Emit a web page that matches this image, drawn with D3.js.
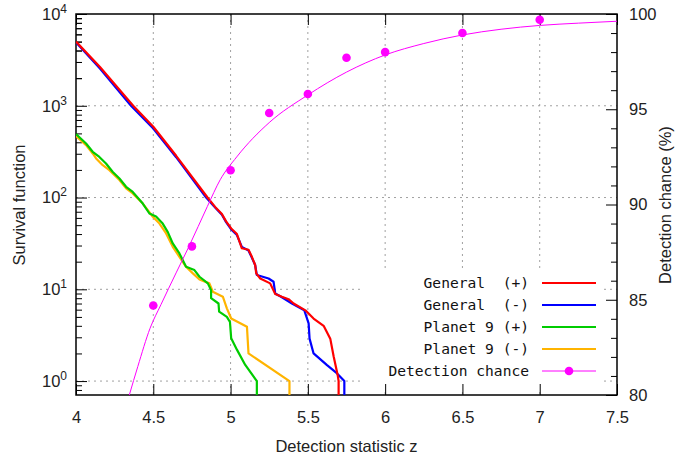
<!DOCTYPE html>
<html>
<head>
<meta charset="utf-8">
<script src="https://cdn.jsdelivr.net/npm/d3@7"></script>
<style>
  body { margin: 0; background: #fff; }
  svg { display: block; }
</style>
</head>
<body>
<svg id="chart" width="699" height="457"></svg>
<script>
// survival functions, [z, S(z)]
var generalPos = [
    [4.0, 5000], [4.155, 2650], [4.37, 1000], [4.5, 590], [4.648, 285], [4.851, 100],
    [4.9, 79], [4.944, 66], [4.971, 55], [5.004, 46], [5.041, 40], [5.073, 28],
    [5.116, 27], [5.138, 22.6], [5.159, 18.4], [5.166, 14.9], [5.192, 13.1], [5.256, 11.6],
    [5.289, 8.9], [5.332, 8.3], [5.375, 7.8], [5.408, 7.0], [5.484, 5.9], [5.537, 4.8],
    [5.602, 4.0], [5.645, 2.9], [5.667, 1.85], [5.693, 1.16], [5.699, 1.0], [5.699, 0.3]
]
var generalNeg = [
    [4.0, 4900], [4.155, 2550], [4.356, 1000], [4.5, 565], [4.648, 275], [4.842, 100],
    [4.9, 78], [4.944, 65], [4.971, 54], [5.004, 45], [5.041, 39], [5.073, 29],
    [5.116, 26.5], [5.138, 22], [5.159, 18.4], [5.170, 14.3], [5.246, 13.1], [5.278, 12.1],
    [5.289, 9.0], [5.332, 8.2], [5.397, 7.0], [5.477, 5.9], [5.505, 4.25], [5.511, 2.9],
    [5.537, 2.0], [5.624, 1.49], [5.689, 1.21], [5.736, 1.0], [5.736, 0.3]
]
var planet9Pos = [
    [4.0, 491], [4.065, 388], [4.108, 315], [4.151, 277], [4.194, 235], [4.238, 190],
    [4.281, 161], [4.324, 131], [4.367, 115], [4.432, 86], [4.475, 67], [4.518, 62],
    [4.561, 52], [4.594, 42], [4.626, 31.6], [4.669, 24.6], [4.712, 17.6], [4.766, 16.2],
    [4.799, 13.7], [4.853, 11.6], [4.874, 9.8], [4.874, 8.0], [4.922, 7.0], [4.926, 5.7],
    [4.976, 5.0], [4.996, 4.4], [5.004, 2.92], [5.041, 2.2], [5.095, 1.5], [5.17, 1.0], [5.17, 0.3]
]
var planet9Neg = [
    [4.0, 467], [4.065, 372], [4.108, 302], [4.130, 267], [4.173, 225], [4.216, 199],
    [4.281, 155], [4.324, 126], [4.367, 111], [4.432, 86], [4.497, 61.7], [4.540, 52],
    [4.583, 40.6], [4.626, 29.0], [4.669, 22.6], [4.712, 17.6], [4.756, 14.9], [4.799, 12.8],
    [4.863, 11.6], [4.885, 9.4], [4.950, 8.3], [4.976, 6.2], [5.004, 4.8], [5.106, 3.9],
    [5.116, 2.0], [5.381, 1.0], [5.381, 0.3]
]

// detection chance (%), measured points and the fitted curve
var detZ = [4.5, 4.75, 5.0, 5.25, 5.5, 5.75, 6.0, 6.5, 7.0]
var detChance = [84.7, 87.8, 91.8, 94.8, 95.8, 97.7, 98.0, 99.0, 99.7]
var fitZ = [4.345, 4.4, 4.479, 4.55, 4.65, 4.731, 4.85, 4.933, 5.04, 5.25, 5.5, 5.75, 6.0, 6.25, 6.5, 6.75, 7.0, 7.25, 7.5]
var fitChance = [80, 81.5, 83.5, 84.75, 86.45, 87.8, 89.9, 91.3, 92.5, 94.3, 95.75, 96.95, 97.85, 98.45, 98.9, 99.2, 99.4, 99.52, 99.62]

var xTicks = [4, 4.5, 5, 5.5, 6, 6.5, 7, 7.5]
var yExponents = [0, 1, 2, 3, 4]
var y2Ticks = [80, 85, 90, 95, 100]

var legendNames = ["General  (+)", "General  (-)", "Planet 9 (+)", "Planet 9 (-)", "Detection chance"]
var colors = ["#ff0000", "#0000ff", "#00cc00", "#ffb400", "#ff00ff"]

var svg = d3.select("svg#chart")
var pLeft = 76, pRight = 617, pTop = 14, pBottom = 395
var sansFont = "'Liberation Sans', Arial, sans-serif"
var grid_color = '#a0a0a0'

var x = d3.scaleLinear().domain([4, 7.5]).range([pLeft, pRight])
var y = d3.scaleLog().domain([0.705, 1e4]).range([pBottom, pTop])
var y2 = d3.scaleLinear().domain([80, 100]).range([pBottom, pTop])

svg.append("clipPath").attr("id", "plotclip")
    .append("rect").attr("x", pLeft).attr("y", pTop).attr("width", pRight - pLeft).attr("height", pBottom - pTop)

// grid
var grid = svg.append("g").attr("stroke", grid_color).attr("stroke-width", 1).attr("stroke-dasharray", "2,4")
xTicks.slice(1, -1).forEach(function (t) {
    grid.append("line").attr("x1", x(t)).attr("x2", x(t)).attr("y1", pTop).attr("y2", pBottom)
})
yExponents.slice(0, -1).forEach(function (e) {
    grid.append("line").attr("x1", pLeft).attr("x2", pRight).attr("y1", y(Math.pow(10, e))).attr("y2", y(Math.pow(10, e)))
})

// opaque key box hides the grid behind it
svg.append("rect").attr("x", 363).attr("y", 270).attr("width", 240).attr("height", 118).attr("fill", "#fff")

// axes (ticks inside, gnuplot style)
function styleAxis(g) {
    g.select(".domain").remove()
    g.selectAll("line").attr("stroke", "#000").attr("stroke-width", 1)
    g.attr("font-family", sansFont).attr("font-size", "16.5px")
    g.selectAll("text").attr("fill", "#222")
}

svg.append("g").attr("transform", "translate(0," + pBottom + ")")
    .call(d3.axisBottom(x).tickValues(xTicks).tickSize(-11).tickPadding(16).tickFormat(d3.format("")))
    .call(styleAxis)
svg.append("g").attr("transform", "translate(0," + pTop + ")")
    .call(d3.axisTop(x).tickValues(xTicks).tickSize(-11).tickFormat(""))
    .call(styleAxis)

var majors = yExponents.map(function (e) { return Math.pow(10, e) })
var minors = []
yExponents.forEach(function (e) {
    for (var m = 2; m <= 9; m++) {
        var v = m * Math.pow(10, e - 1)
        if (v >= 0.705) minors.push(v)
    }
})
minors = minors.concat([2000, 3000, 4000, 5000, 6000, 7000, 8000, 9000])
svg.append("g").attr("transform", "translate(" + pLeft + ",0)")
    .call(d3.axisLeft(y).tickValues(majors).tickSize(-11).tickFormat(""))
    .call(styleAxis)
svg.append("g").attr("transform", "translate(" + pLeft + ",0)")
    .call(d3.axisLeft(y).tickValues(minors).tickSize(-6).tickFormat(""))
    .call(styleAxis)

var ylab = svg.append("g").attr("font-family", sansFont).attr("fill", "#222")
yExponents.forEach(function (e) {
    var t = ylab.append("text").attr("x", 67).attr("y", y(Math.pow(10, e))).attr("dy", "0.36em")
        .attr("text-anchor", "end").attr("font-size", "16.5px")
    t.append("tspan").text("10")
    t.append("tspan").attr("dy", "-7").attr("font-size", "12px").text(e)
})

svg.append("g").attr("transform", "translate(" + pRight + ",0)")
    .call(d3.axisRight(y2).tickValues(y2Ticks).tickSize(-11).tickPadding(12))
    .call(styleAxis)
svg.append("g").attr("transform", "translate(" + pRight + ",0)")
    .call(d3.axisRight(y2).tickValues(d3.range(81, 100).filter(function (v) { return v % 5 != 0 })).tickSize(-6).tickFormat(""))
    .call(styleAxis)

// frame
svg.append("rect").attr("x", pLeft).attr("y", pTop).attr("width", pRight - pLeft).attr("height", pBottom - pTop)
    .attr("fill", "none").attr("stroke", "#000").attr("stroke-width", 1.5)

// axis titles
svg.append("text").attr("x", (pLeft + pRight) / 2).attr("y", 452).attr("text-anchor", "middle")
    .attr("font-family", sansFont).attr("font-size", "16.5px").attr("fill", "#222").text("Detection statistic z")
svg.append("text").attr("transform", "translate(25,205) rotate(-90)").attr("text-anchor", "middle")
    .attr("font-family", sansFont).attr("font-size", "16.5px").attr("fill", "#222").text("Survival function")
svg.append("text").attr("transform", "translate(671,205) rotate(-90)").attr("text-anchor", "middle")
    .attr("font-family", sansFont).attr("font-size", "16.5px").attr("fill", "#222").text("Detection chance (%)")

// curves
var plot = svg.append("g").attr("clip-path", "url(#plotclip)")
var survLine = d3.line().x(function (d) { return x(d[0]) }).y(function (d) { return y(d[1]) })

var series = [
    { data: generalNeg, color: colors[1] },
    { data: generalPos, color: colors[0] },
    { data: planet9Neg, color: colors[3] },
    { data: planet9Pos, color: colors[2] }
]
series.forEach(function (s) {
    plot.append("path").attr("d", survLine(s.data)).attr("fill", "none")
        .attr("stroke", s.color).attr("stroke-width", 2.2).attr("stroke-linejoin", "round")
})

var fitLine = d3.line().curve(d3.curveMonotoneX)
    .x(function (d, i) { return x(fitZ[i]) }).y(function (d) { return y2(d) })
plot.append("path").attr("d", fitLine(fitChance)).attr("fill", "none")
    .attr("stroke", colors[4]).attr("stroke-width", 1)

plot.selectAll(".det").data(detChance).enter().append("circle")
    .attr("class", "det")
    .attr("cx", function (d, i) { return x(detZ[i]) })
    .attr("cy", function (d) { return y2(d) })
    .attr("r", 4.3).attr("fill", colors[4])

// key
var key = svg.append("g")
legendNames.forEach(function (name, i) {
    var ky = 283 + i * 22
    key.append("text").attr("x", 529).attr("y", ky).attr("dy", "0.35em").attr("text-anchor", "end")
        .attr("font-family", "'DejaVu Sans Mono', monospace").attr("font-size", "14.6px")
        .attr("fill", "#111").attr("xml:space", "preserve").style("white-space", "pre").text(name)
    key.append("line").attr("x1", 542).attr("x2", 596).attr("y1", ky).attr("y2", ky)
        .attr("stroke", colors[i]).attr("stroke-width", i == 4 ? 1 : 2.2)
    if (i == 4) {
        key.append("circle").attr("cx", 569).attr("cy", ky).attr("r", 4.3).attr("fill", colors[4])
    }
})
</script>
</body>
</html>
